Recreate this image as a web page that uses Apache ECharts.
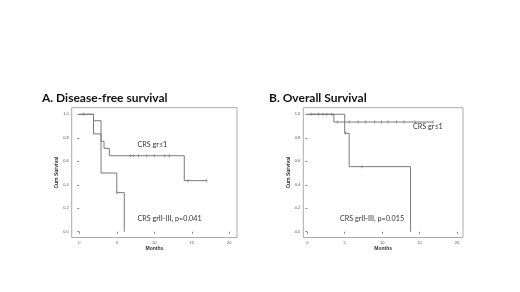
<!DOCTYPE html>
<html>
<head>
<meta charset="utf-8">
<script src="https://cdn.jsdelivr.net/npm/echarts@6/dist/echarts.min.js"></script>
<style>
  html, body { margin: 0; padding: 0; background: #fff; }
  #chart { width: 520px; height: 292px; }
</style>
</head>
<body>
<div id="chart"></div>
<script>
// A. Disease-free survival
const dfsLowTimes = [0, 1.9, 2.9, 3.3, 4.0, 14.0, 17.0]
const dfsLowSurv = [1, 0.945, 0.77, 0.71, 0.647, 0.435, 0.435]
const dfsLowCensor = [0.6, 6.8, 7.2, 7.9, 9.0, 10.0, 11.4, 12.0, 14.5, 17.0]
const dfsHighTimes = [0, 1.9, 2.9, 5.0, 6.0]
const dfsHighSurv = [1, 0.833, 0.5, 0.333, 0]
const dfsHighCensor = [5.0]

// B. Overall survival
const osLowTimes = [0, 3.55, 16.8]
const osLowSurv = [1, 0.934, 0.934]
const osLowCensor = [0.6, 1.5, 2.1, 2.6, 3.3, 4.0, 5.6, 6.8, 7.8, 9.0, 9.9, 10.8, 11.9, 12.9, 14.4, 16.8]
const osHighTimes = [0, 5.0, 5.6, 13.8]
const osHighSurv = [1, 0.838, 0.554, 0]
const osHighCensor = [5.1, 7.3]

const xTicks = [0, 5, 10, 15, 20]
const yTicks = [0, 0.2, 0.4, 0.6, 0.8, 1.0]

const lineColor = '#7a7a7a'
const textFont = 'Lato, "Open Sans", sans-serif'

function pairs(t, s) {
  return t.map((v, i) => [v, s[i]])
}
// survival value of a step curve at time x
function survAt(t, s, x) {
  let v = s[0]
  for (let i = 0; i < t.length; i++) {
    if (t[i] <= x) v = s[i]
  }
  return v
}
function censorPts(t, s, c) {
  return c.map(x => [x, survAt(t, s, x)])
}

const chart = echarts.init(document.getElementById('chart'))

function makeX(idx, min, max) {
  return {
    gridIndex: idx, type: 'value', min: min, max: max,
    name: 'Months', nameLocation: 'middle', nameGap: 9,
    nameTextStyle: { fontSize: 5, fontWeight: 'bold', color: '#333', fontFamily: 'Liberation Sans' },
    axisLine: { show: false },
    axisTick: { show: true, length: 2, lineStyle: { color: '#888' }, customValues: xTicks },
    axisLabel: { fontSize: 4, color: '#555', margin: 3, customValues: xTicks },
    splitLine: { show: false }
  }
}
function makeY(idx, min, max) {
  return {
    gridIndex: idx, type: 'value', min: min, max: max,
    name: 'Cum Survival', nameLocation: 'middle', nameGap: 12,
    nameTextStyle: { fontSize: 5, fontWeight: 'bold', color: '#333', fontFamily: 'Liberation Sans' },
    axisLine: { show: false },
    axisTick: { show: true, length: 2, lineStyle: { color: '#888' }, customValues: yTicks },
    axisLabel: {
      fontSize: 4, color: '#555', margin: 3, customValues: yTicks,
      formatter: v => v.toFixed(1).replace('.', ',')
    },
    splitLine: { show: false }
  }
}
function stepSeries(idx, t, s) {
  return {
    type: 'line', xAxisIndex: idx, yAxisIndex: idx, step: 'end',
    data: pairs(t, s), showSymbol: false, animation: false,
    lineStyle: { color: lineColor, width: 1 }
  }
}
function censorSeries(idx, t, s, c) {
  return {
    type: 'scatter', xAxisIndex: idx, yAxisIndex: idx,
    data: censorPts(t, s, c), symbol: 'rect', symbolSize: [1, 3],
    itemStyle: { color: lineColor }, animation: false
  }
}

const option = {
  backgroundColor: '#fff',
  title: [
    { text: 'A. Disease-free survival', left: 37, top: 87,
      textStyle: { fontSize: 12, fontWeight: 'bold', color: '#111', fontFamily: textFont } },
    { text: 'B. Overall Survival', left: 264, top: 87,
      textStyle: { fontSize: 12, fontWeight: 'bold', color: '#111', fontFamily: textFont } }
  ],
  grid: [
    { left: 71.7, top: 107.7, width: 165.3, height: 129.8, show: true, borderColor: '#aaa', borderWidth: 1 },
    { left: 303.3, top: 107.7, width: 159.7, height: 129.8, show: true, borderColor: '#aaa', borderWidth: 1 }
  ],
  xAxis: [makeX(0, -1.01, 21.03), makeX(1, -0.53, 20.8)],
  yAxis: [makeY(0, -0.049, 1.056), makeY(1, -0.049, 1.056)],
  series: [
    stepSeries(0, dfsLowTimes, dfsLowSurv),
    stepSeries(0, dfsHighTimes, dfsHighSurv),
    censorSeries(0, dfsLowTimes, dfsLowSurv, dfsLowCensor),
    censorSeries(0, dfsHighTimes, dfsHighSurv, dfsHighCensor),
    stepSeries(1, osLowTimes, osLowSurv),
    stepSeries(1, osHighTimes, osHighSurv),
    censorSeries(1, osLowTimes, osLowSurv, osLowCensor),
    censorSeries(1, osHighTimes, osHighSurv, osHighCensor)
  ],
  graphic: [
    { type: 'text', left: 137.5, top: 141.5, style: { text: 'CRS gr≤1', fontSize: 7.2, fill: '#333', fontFamily: textFont } },
    { type: 'text', left: 137.5, top: 215.5, style: { text: 'CRS grII-III, p=0.041', fontSize: 7.2, fill: '#333', fontFamily: textFont } },
    { type: 'text', left: 413, top: 123.5, style: { text: 'CRS gr≤1', fontSize: 7.2, fill: '#333', fontFamily: textFont } },
    { type: 'text', left: 340, top: 215.5, style: { text: 'CRS grII-III, p=0.015', fontSize: 7.2, fill: '#333', fontFamily: textFont } }
  ]
}

chart.setOption(option)

window.addEventListener('resize', () => {
  chart.resize()
})
</script>
</body>
</html>
